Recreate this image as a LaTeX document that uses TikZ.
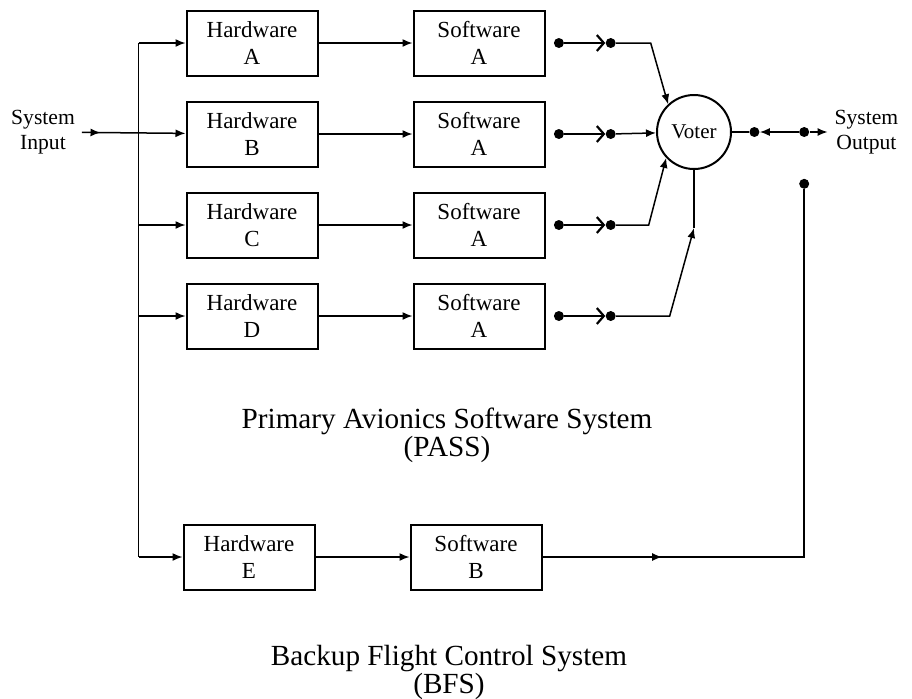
\documentclass[tikz,border=0pt]{standalone}
\usepackage{fontspec}
\setmainfont{Liberation Serif}
\usetikzlibrary{positioning, arrows.meta, decorations.markings}

\begin{document}
\begin{tikzpicture}[
    x=0.5pt, y=-0.5pt,
    node distance=12pt and 47pt,
    unit/.style={rectangle, draw, line width=1pt, minimum width=65.5pt, minimum height=32.5pt, align=center, inner sep=1pt, font=\fontsize{11.5}{13.5}\selectfont},
    dot/.style={circle, fill, inner sep=0pt, minimum size=5pt},
    arrow/.style={-{Latex[length=5pt, width=4pt]}, line width=0.75pt},
    link/.style={-{Straight Barb[length=3.5pt, width=8pt, line width=1.1pt]}, line width=0.75pt},
    midarrow/.style={postaction={decorate}, decoration={markings, mark=at position #1 with {\arrow{Latex[length=5pt, width=4pt]}}}},
    iotext/.style={align=center, font=\fontsize{10.8}{12.5}\selectfont},
    sysname/.style={align=center, font=\fontsize{14.6}{14}\selectfont}
]
\useasboundingbox (0,0) rectangle (912,698);

% PASS : quatre chaines en parallele
\node[unit] (hwA) at (252,43) {Hardware\\A};
\node[unit, below=of hwA] (hwB) {Hardware\\B};
\node[unit, below=of hwB] (hwC) {Hardware\\C};
\node[unit, below=of hwC] (hwD) {Hardware\\D};
\node[unit, right=of hwA] (swA) {Software\\A};
\node[unit, right=of hwB] (swB) {Software\\A};
\node[unit, right=of hwC] (swC) {Software\\A};
\node[unit, right=of hwD] (swD) {Software\\A};

% BFS
\node[unit] (hwE) at (249,557) {Hardware\\E};
\node[unit, right=of hwE] (swE) {Software\\B};

% Voter
\node[circle, draw, line width=1pt, minimum size=37pt, inner sep=0pt, font=\fontsize{10.5}{12}\selectfont] (voter) at (694,132) {Voter};

% Contacts
\node[dot, right=4pt of swA] (dA1) {};
\node[dot, right=20.5pt of dA1] (dA2) {};
\node[dot, right=4pt of swB] (dB1) {};
\node[dot, right=20.5pt of dB1] (dB2) {};
\node[dot, right=4pt of swC] (dC1) {};
\node[dot, right=20.5pt of dC1] (dC2) {};
\node[dot, right=4pt of swD] (dD1) {};
\node[dot, right=20.5pt of dD1] (dD2) {};
\node[dot, right=8.5pt of voter] (dO1) {};
\node[dot, right=19.5pt of dO1] (dO2) {};
\node[dot, below=20.5pt of dO2] (dO3) {};
\coordinate[below=29pt of voter.south] (vjoin);
\coordinate[left=23.5pt of hwA.west] (busT);

% Texts
\node[iotext] (sysin) at (43,132) {System\\Input};
\node[iotext, right=9pt of dO2] (sysout) {System\\Output};
\node[sysname] (pass) at (447,435) {Primary Avionics Software System\\(PASS)};
\node[sysname] (bfs) at (449,672) {Backup Flight Control System\\(BFS)};

% Arrows
\draw[arrow, midarrow=0.18] (sysin) -- (hwB);
\draw[line width=0.75pt] (busT) -- (busT |- hwE);
\draw[arrow] (busT) -- (hwA);
\draw[arrow] (busT |- hwC) -- (hwC);
\draw[arrow] (busT |- hwD) -- (hwD);
\draw[arrow] (busT |- hwE) -- (hwE);
\draw[arrow] (hwA) -- (swA);
\draw[arrow] (hwB) -- (swB);
\draw[arrow] (hwC) -- (swC);
\draw[arrow] (hwD) -- (swD);
\draw[arrow] (hwE) -- (swE);
\draw[link] (dA1) -- (dA2);
\draw[link] (dB1) -- (dB2);
\draw[link] (dC1) -- (dC2);
\draw[link] (dD1) -- (dD2);
\draw[arrow] (dA2) -- ++(20pt,0) -- (voter.133);
\draw[arrow] (dB2) -- (voter);
\draw[arrow] (dC2) -- ++(19pt,0) -- (voter.223);
\draw[line width=0.75pt] (voter.south) -- (vjoin);
\draw[arrow] (dD2) -- ++(29.5pt,0) -- (vjoin);
\draw[line width=0.75pt] (voter) -- (dO1);
\draw[arrow] (dO2) -- (dO1);
\draw[arrow] (dO2) -- (sysout);
\draw[line width=0.75pt, midarrow=0.19] (swE) -| (dO3);

\end{tikzpicture}
\end{document}
